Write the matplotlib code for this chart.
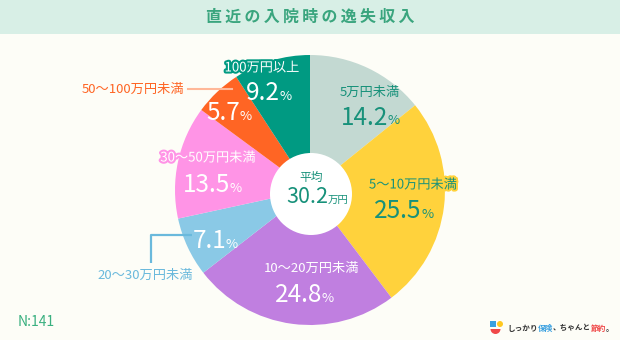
import matplotlib
matplotlib.use("Agg")
import matplotlib.pyplot as plt
import matplotlib.patheffects as pe
from matplotlib.patches import Rectangle, Circle, Wedge
import numpy as np

plt.rcParams['font.family'] = ['Noto Sans CJK JP', 'DejaVu Sans']

title = "直近の入院時の逸失収入"
categories = ["5万円未満", "5〜10万円未満", "10〜20万円未満", "20〜30万円未満",
              "30〜50万円未満", "50〜100万円未満", "100万円以上"]
values = [14.2, 25.5, 24.8, 7.1, 13.5, 5.7, 9.2]
value_labels = ["14.2", "25.5", "24.8", "7.1", "13.5", "5.7", "9.2"]
average_label = "30.2"
n_label = "N:141"

colors = ["#c3d9d2", "#ffd23c", "#c07fe0", "#8ac9e6", "#ff94e6", "#ff6524", "#009a82"]
BG = "#fdfdf7"
TEAL_TXT = "#17917a"

W, H = 620, 340
fig = plt.figure(figsize=(6.2, 3.4), dpi=100, facecolor=BG)
ax = fig.add_axes([0, 0, 1, 1])
ax.set_xlim(0, W)
ax.set_ylim(0, H)
ax.set_aspect('equal')
ax.axis('off')

def Y(y):
    return H - y

# title bar
ax.add_patch(Rectangle((0, Y(34)), W, 34, facecolor="#d8efe6", edgecolor='none', zorder=0))
ax.text(W / 2, Y(17), "\u2009".join(title), ha='center', va='center', fontsize=11.5,
        color="#3aa57e", fontweight='bold', family=['Noto Sans CJK JP', 'DejaVu Sans'])

cx, cy, R = 310, Y(190), 135
ax.pie(values, colors=colors, startangle=90, counterclock=False,
       center=(cx, cy), radius=R, wedgeprops=dict(linewidth=0), frame=True)
ax.set_xlim(0, W)
ax.set_ylim(0, H)
ax.axis('off')

# center circle
ax.add_patch(Circle((311, Y(194)), 41, facecolor='white', edgecolor='none', zorder=5))
ax.text(311, Y(177), "平均", ha='center', va='center', fontsize=8.5, color=TEAL_TXT, zorder=6)
ax.text(328, Y(197), average_label, ha='right', va='center', fontsize=15.5, color=TEAL_TXT, zorder=6)
ax.text(328, Y(200), "万円", ha='left', va='center', fontsize=7.5, color=TEAL_TXT, zorder=6)

# label layout: (name_x, name_y, pct_anchor_x, pct_y, text color, stroke color)
layout = [
    (370, 92, 388, 118, TEAL_TXT, None),
    (413, 185, 421, 211, TEAL_TXT, "#ffd23c"),
    (312, 268, 322, 295, "white", None),
    (None, None, 226, 241, "white", None),
    (208, 158, 230, 185, "white", "#ff94e6"),
    (None, None, 240, 113, "white", None),
    (262, 68, 280, 93, "white", "#009a82"),
]

for i, (nx, ny, px, py, tc, sc) in enumerate(layout):
    eff = [pe.withStroke(linewidth=3, foreground=sc)] if sc else None
    if nx is not None:
        ax.text(nx, Y(ny), categories[i], ha='center', va='center', fontsize=9.5,
                color=tc, path_effects=eff, zorder=7)
    ax.text(px, Y(py), value_labels[i], ha='right', va='center', fontsize=17.5,
            color=tc, zorder=7)
    ax.text(px, Y(py + 3), "%", ha='left', va='center', fontsize=9.5,
            color=tc, zorder=7)

# outside labels
ax.plot([151, 151, 192], [Y(263), Y(235), Y(235)], color="#6ab9dc", lw=1.6,
        solid_capstyle='butt', zorder=8)
ax.text(193, Y(275), categories[3], ha='right', va='center', fontsize=9.5,
        color="#6ab9dc", zorder=8)
ax.plot([188, 232], [Y(89), Y(89)], color="#ffb899", lw=1.5, zorder=8)
ax.text(184, Y(89), categories[5], ha='right', va='center', fontsize=9.5,
        color="#ff6524", zorder=8)

# N label
ax.text(18, Y(322), n_label, ha='left', va='center', fontsize=10,
        color="#3ab080")

# logo
ax.add_patch(Rectangle((490, Y(327)), 6, 6, facecolor="#3aa0e0", edgecolor='none'))
ax.add_patch(Circle((500, Y(324)), 3, facecolor="#ffc820", edgecolor='none'))
ax.add_patch(Wedge((495.5, Y(329)), 5, 180, 360, facecolor="#f04848", edgecolor='none'))
parts = [("しっかり", "#333333"), ("保険", "#3aa0e0"), ("、ちゃんと", "#333333"),
         ("節約", "#f04848"), ("。", "#333333")]
fig.canvas.draw()
renderer = fig.canvas.get_renderer()
x = 507
for s, c in parts:
    t = ax.text(x, Y(328), s, ha='left', va='center', fontsize=5.5, color=c, fontweight='bold')
    bb = t.get_window_extent(renderer=renderer)
    x += bb.width * (W / fig.bbox.width)

fig.savefig("out.png", dpi=100, facecolor=BG)
